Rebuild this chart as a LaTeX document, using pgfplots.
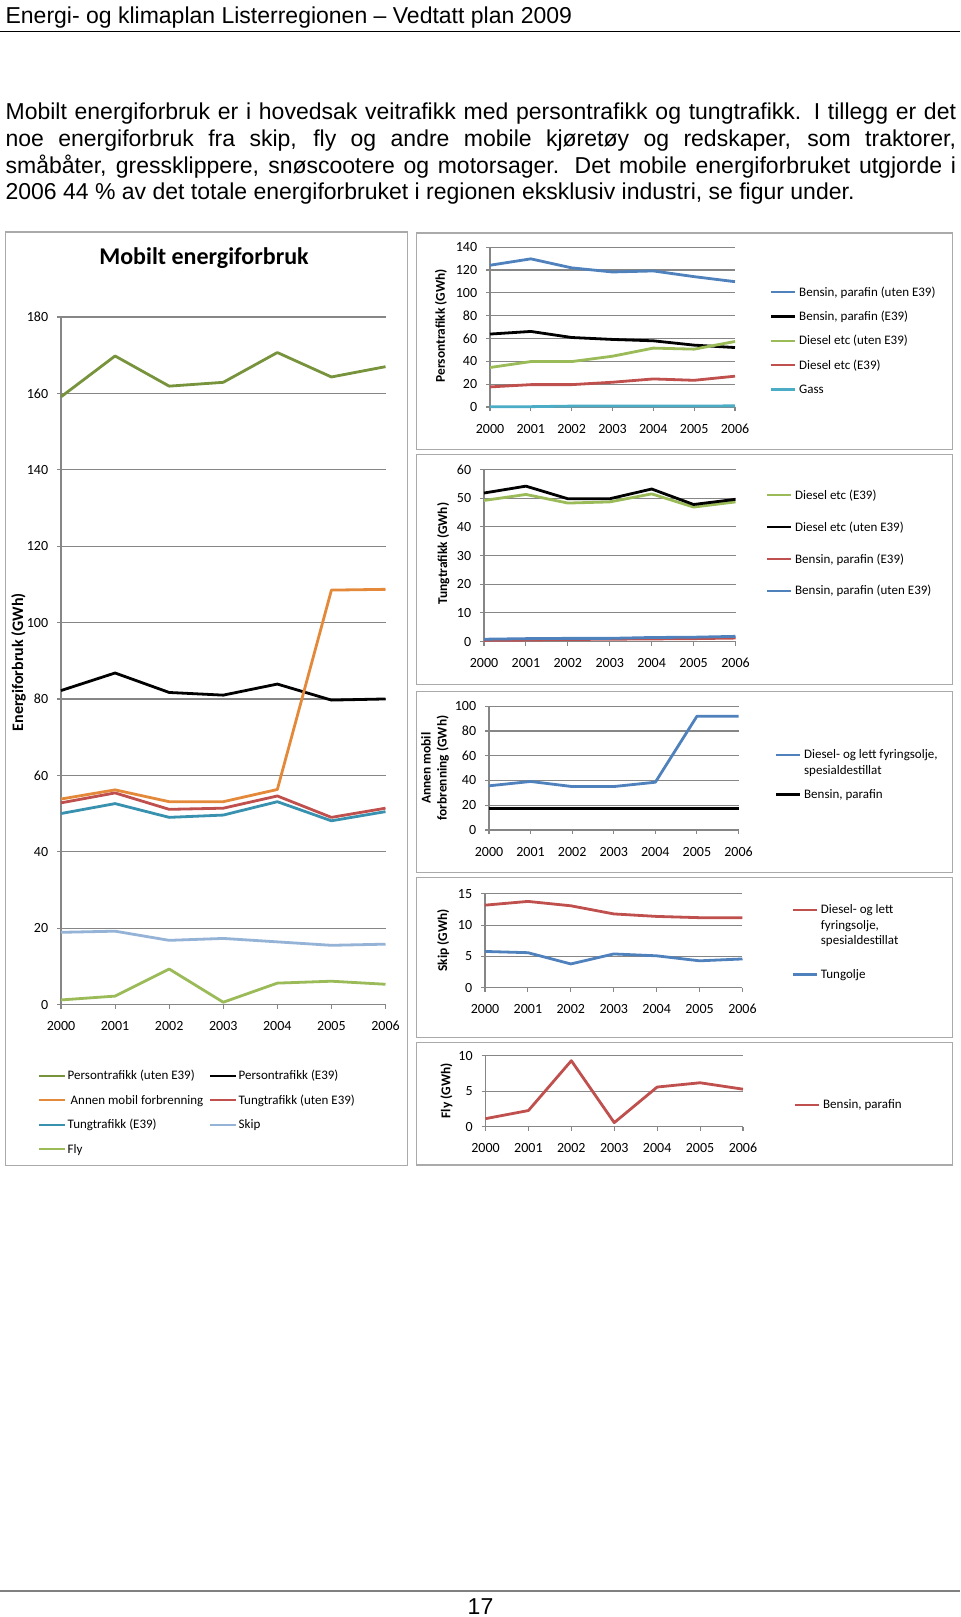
\documentclass[border=0pt]{standalone}
\usepackage{fontspec}
\setmainfont{Liberation Sans}
\newfontfamily\cf{Carlito}
\usepackage{pgfplots}
\pgfplotsset{compat=1.18}

\definecolor{gridC}{RGB}{134,134,134}
\definecolor{frameC}{RGB}{170,170,170}
\definecolor{oliveG}{RGB}{119,147,60}
\definecolor{orangeA}{RGB}{228,137,58}
\definecolor{redA}{RGB}{192,80,77}
\definecolor{tealA}{RGB}{55,145,175}
\definecolor{skipB}{RGB}{149,179,215}
\definecolor{flyG}{RGB}{155,187,89}
\definecolor{blueA}{RGB}{79,129,189}
\definecolor{gasT}{RGB}{75,172,198}

\pgfplotsset{
  excel/.style={
    scale only axis,
    xmin=2000, xmax=2006, ymin=0,
    xtick={2000,2001,2002,2003,2004,2005,2006},
    xticklabels={2000,2001,2002,2003,2004,2005,2006},
    axis x line*=bottom, axis y line*=left,
    axis line style={draw=gridC, line width=0.55pt},
    ymajorgrids, major grid style={draw=gridC, line width=0.55pt},
    tick align=outside, major tick length=2pt,
    tick style={draw=gridC, line width=0.55pt},
    tick label style={font=\cf\fontsize{7}{8}\selectfont, text=black},
    /pgf/number format/assume math mode=true,
    yticklabel style={xshift=-0.9pt},
    xticklabel style={yshift=-3pt, text height=4.5pt, text depth=0pt},
    ylabel style={font=\cf\bfseries\fontsize{6.7}{8}\selectfont, anchor=center},
    legend cell align=left,
    legend style={draw=none, fill=none, inner sep=0pt, outer sep=0pt,
      anchor=north west, column sep=1.5pt,
      font=\cf\fontsize{6.5}{7.75}\selectfont, cells={align=left},
      nodes={inner sep=0pt}},
    legend image code/.code={\draw[##1, line width=1.1pt] (0pt,0pt) -- (12pt,0pt);},
    every axis plot/.append style={line width=1.4pt, mark=none, line join=round},
    clip=false,
  },
  leg2/.style={legend image code/.code={\path[draw=none] (0pt,-3.9pt) (0pt,3.9pt); \draw[##1, line width=1.1pt] (0pt,3.9pt) -- (12pt,3.9pt);}},
  leg3/.style={legend image code/.code={\path[draw=none] (0pt,-7.75pt) (0pt,7.75pt); \draw[##1, line width=1.1pt] (0pt,7.75pt) -- (12pt,7.75pt);}},
}

\begin{document}
\begin{tikzpicture}
\useasboundingbox[fill=white] (0pt,0pt) rectangle (480pt,-808.5pt);

% header
\node[anchor=base west, inner sep=0pt, font=\fontsize{11.5}{13.5}\selectfont] at (2.6pt,-11.85pt) {Energi- og klimaplan Listerregionen – Vedtatt plan 2009};
\draw[line width=0.5pt] (0pt,-15.5pt) -- (480pt,-15.5pt);

% paragraph
\begin{scope}[every node/.style={anchor=base west, inner sep=0pt, font=\fontsize{11.5}{13.5}\selectfont}]
\node at (2.6pt,-59.75pt) {\makebox[475.25pt][s]{Mobilt energiforbruk er i hovedsak veitrafikk med persontrafikk og tungtrafikk. I tillegg er det}};
\node at (2.6pt,-73.15pt) {\makebox[475.25pt][s]{noe energiforbruk fra skip, fly og andre mobile kjøretøy og redskaper, som traktorer,}};
\node at (2.6pt,-86.55pt) {\makebox[475.25pt][s]{småbåter, gressklippere, snøscootere og motorsager. Det mobile energiforbruket utgjorde i}};
\node at (2.6pt,-99.95pt) {2006 44 \% av det totale energiforbruket i regionen eksklusiv industri, se figur under.};
\end{scope}

% frames
\draw[frameC, line width=0.6pt] (2.6pt,-116pt) rectangle (203.6pt,-582.75pt);
\draw[frameC, line width=0.6pt] (208.25pt,-116.5pt) rectangle (476.3pt,-224.75pt);
\draw[frameC, line width=0.6pt] (208.25pt,-227.35pt) rectangle (476.3pt,-342.3pt);
\draw[frameC, line width=0.6pt] (208.25pt,-345.9pt) rectangle (476.3pt,-436.1pt);
\draw[frameC, line width=0.6pt] (208.25pt,-438.7pt) rectangle (476.3pt,-518.6pt);
\draw[frameC, line width=0.6pt] (208.25pt,-521.15pt) rectangle (476.3pt,-582.5pt);

% left title
\node[font=\cf\bfseries\fontsize{12}{14}\selectfont] at (102pt,-129pt) {Mobilt energiforbruk};

% ===== Left main chart
\begin{axis}[excel, at={(30.5pt,-502.25pt)}, anchor=south west,
  width=162.25pt, height=343.75pt, ymax=180,
  ytick={0,20,40,60,80,100,120,140,160,180},
  ylabel={Energiforbruk (GWh)},
  ylabel style={font=\cf\bfseries\fontsize{8}{9}\selectfont, at={(axis description cs:-0.1307,0.498)}},
  legend columns=2,
  legend style={at={(axis description cs:-0.0843,-0.0935)}, column sep=0.6pt, row sep=5.3pt},
  legend image code/.code={\path[draw=none] (-2.6pt,0pt); \draw[#1, line width=1.1pt] (0pt,0pt) -- (13.3pt,0pt);},
]
\addplot[oliveG] coordinates {(2000,159.1) (2001,169.8) (2002,161.9) (2003,162.9) (2004,170.7) (2005,164.3) (2006,167.0)};
\addlegendentry{\strut Persontrafikk (uten E39)}
\addplot[black] coordinates {(2000,82.2) (2001,86.8) (2002,81.7) (2003,81.0) (2004,83.9) (2005,79.7) (2006,80.0)};
\addlegendentry{\strut Persontrafikk (E39)}
\addplot[orangeA] coordinates {(2000,53.8) (2001,56.2) (2002,53.1) (2003,53.1) (2004,56.3) (2005,108.5) (2006,108.7)};
\addlegendentry{\strut\ Annen mobil forbrenning}
\addplot[redA] coordinates {(2000,52.8) (2001,55.4) (2002,51.1) (2003,51.4) (2004,54.6) (2005,49.0) (2006,51.4)};
\addlegendentry{\strut Tungtrafikk (uten E39)}
\addplot[tealA] coordinates {(2000,50.0) (2001,52.6) (2002,49.0) (2003,49.6) (2004,53.1) (2005,48.1) (2006,50.5)};
\addlegendentry{\strut Tungtrafikk (E39)}
\addplot[skipB] coordinates {(2000,18.9) (2001,19.2) (2002,16.8) (2003,17.3) (2004,16.4) (2005,15.5) (2006,15.8)};
\addlegendentry{\strut Skip}
\addplot[flyG] coordinates {(2000,1.2) (2001,2.2) (2002,9.3) (2003,0.6) (2004,5.6) (2005,6.1) (2006,5.3)};
\addlegendentry{\strut Fly}
\end{axis}

% ===== R1 Persontrafikk
\begin{axis}[excel, at={(245pt,-203.5pt)}, anchor=south west,
  width=122.5pt, height=79.9pt, ymax=140,
  ytick={0,20,40,60,80,100,120,140},
  ylabel={Persontrafikk (GWh)},
  ylabel style={at={(axis description cs:-0.2,0.508)}},
  legend style={at={(axis description cs:1.143,0.762)}, row sep=5.25pt},
]
\addplot[blueA] coordinates {(2000,124.2) (2001,129.8) (2002,121.9) (2003,118.3) (2004,119.2) (2005,114.2) (2006,109.8)};
\addlegendentry{\strut Bensin, parafin (uten E39)}
\addplot[black] coordinates {(2000,63.9) (2001,66.2) (2002,60.9) (2003,59.2) (2004,58.0) (2005,54.2) (2006,52.1)};
\addlegendentry{\strut Bensin, parafin (E39)}
\addplot[flyG] coordinates {(2000,34.6) (2001,39.8) (2002,39.8) (2003,44.5) (2004,51.6) (2005,50.7) (2006,57.4)};
\addlegendentry{\strut Diesel etc (uten E39)}
\addplot[redA] coordinates {(2000,17.6) (2001,19.6) (2002,19.6) (2003,21.7) (2004,24.6) (2005,23.4) (2006,27.0)};
\addlegendentry{\strut Diesel etc (E39)}
\addplot[gasT] coordinates {(2000,0.3) (2001,0.3) (2002,0.8) (2003,0.8) (2004,0.9) (2005,0.9) (2006,1.0)};
\addlegendentry{\strut Gass}
\end{axis}

% ===== R2 Tungtrafikk
\begin{axis}[excel, at={(242pt,-320.75pt)}, anchor=south west,
  width=125.75pt, height=86pt, ymax=60,
  ytick={0,10,20,30,40,50,60},
  ylabel={Tungtrafikk (GWh)},
  ylabel style={at={(axis description cs:-0.162,0.511)}},
  legend style={at={(axis description cs:1.121,0.891)}, row sep=9.05pt},
]
\addplot[flyG] coordinates {(2000,49.2) (2001,51.3) (2002,48.3) (2003,48.7) (2004,51.5) (2005,46.9) (2006,48.7)};
\addlegendentry{\strut Diesel etc (E39)}
\addplot[black] coordinates {(2000,51.8) (2001,54.2) (2002,49.8) (2003,49.8) (2004,53.2) (2005,47.8) (2006,49.6)};
\addlegendentry{\strut Diesel etc (uten E39)}
\addplot[redA] coordinates {(2000,0.4) (2001,0.5) (2002,0.7) (2003,0.8) (2004,0.9) (2005,1.0) (2006,1.2)};
\addlegendentry{\strut Bensin, parafin (E39)}
\addplot[blueA] coordinates {(2000,0.8) (2001,1.0) (2002,1.1) (2003,1.1) (2004,1.4) (2005,1.5) (2006,1.8)};
\addlegendentry{\strut Bensin, parafin (uten E39)}
\end{axis}

% ===== R3 Annen mobil forbrenning
\begin{axis}[excel, at={(244.5pt,-415pt)}, anchor=south west,
  width=124.75pt, height=61.9pt, ymax=100,
  ytick={0,20,40,60,80,100},
  ylabel={Annen mobil\\forbrenning (GWh)},
  ylabel style={at={(axis description cs:-0.216,0.50)}, align=center},
  legend style={at={(axis description cs:1.146,0.662)}, row sep=5.1pt},
]
\addplot[blueA, leg2] coordinates {(2000,35.7) (2001,39.2) (2002,35.1) (2003,35.1) (2004,38.6) (2005,91.9) (2006,91.9)};
\addlegendentry{\strut Diesel- og lett fyringsolje,\\\strut spesialdestillat}
\addplot[black] coordinates {(2000,17.3) (2001,17.3) (2002,17.3) (2003,17.3) (2004,17.3) (2005,17.3) (2006,17.3)};
\addlegendentry{\strut Bensin, parafin}
\end{axis}

% ===== R4 Skip
\begin{axis}[excel, at={(242.5pt,-493.85pt)}, anchor=south west,
  width=128.75pt, height=46.9pt, ymax=15,
  ytick={0,5,10,15},
  ylabel={Skip (GWh)},
  ylabel style={at={(axis description cs:-0.162,0.505)}},
  legend style={at={(axis description cs:1.191,0.906)}, row sep=9.95pt},
]
\addplot[redA, leg3] coordinates {(2000,13.2) (2001,13.8) (2002,13.1) (2003,11.8) (2004,11.4) (2005,11.2) (2006,11.2)};
\addlegendentry{\strut Diesel- og lett\\\strut fyringsolje,\\\strut spesialdestillat}
\addplot[blueA] coordinates {(2000,5.8) (2001,5.6) (2002,3.8) (2003,5.4) (2004,5.1) (2005,4.3) (2006,4.6)};
\addlegendentry{\strut Tungolje}
\end{axis}

% ===== R5 Fly
\begin{axis}[excel, at={(242.75pt,-563.45pt)}, anchor=south west,
  width=128.75pt, height=35.6pt, ymax=10,
  ytick={0,5,10},
  ylabel={Fly (GWh)},
  ylabel style={at={(axis description cs:-0.152,0.507)}},
  legend style={at={(axis description cs:1.198,0.41)}},
]
\addplot[redA] coordinates {(2000,1.16) (2001,2.3) (2002,9.3) (2003,0.6) (2004,5.6) (2005,6.2) (2006,5.3)};
\addlegendentry{\strut Bensin, parafin}
\end{axis}

% footer
\draw[gray, line width=1pt] (0pt,-795.5pt) -- (480pt,-795.5pt);
\node[anchor=base, inner sep=0pt, font=\fontsize{11.5}{13.5}\selectfont] at (240.25pt,-807pt) {17};
\end{tikzpicture}
\end{document}
